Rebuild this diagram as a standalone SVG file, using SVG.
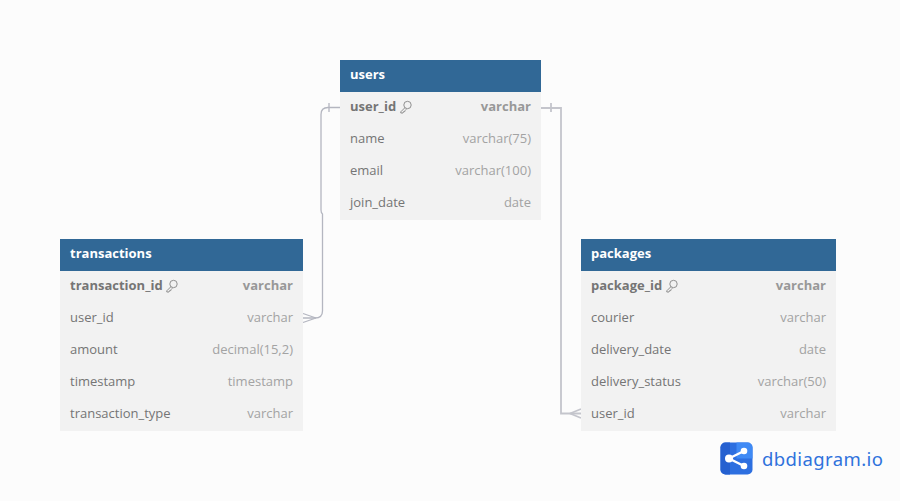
<svg xmlns="http://www.w3.org/2000/svg" width="900" height="501" viewBox="0 0 900 501">
<style>
text{font-family:"Open Sans","Noto Sans",sans-serif;font-size:13px}
.b{fill:#f2f2f2}
.h{fill:#316896}
.t{fill:#fff;font-weight:700}
.n{fill:#757575}
.ty{fill:#a3a3a3;text-anchor:end}
.k{font-weight:700}
.kn{fill:#757575}
.kt{fill:#989898}
.c{fill:none;stroke:#b4b6c0;stroke-width:1.300}
.d{fill:none;stroke:#c4c5cc;stroke-width:1.800}
.ic{fill:none;stroke:#858585;stroke-width:.9}
</style>
<defs>
<g id="key"><circle cx="7.500" cy="4" r="3.700" class="ic"/><path d="M5 6.600 L.8 10.800 V12 H3 L3.600 10.600 H4.800 L5.200 9.400 L6.400 8.200" class="ic"/></g>
</defs>
<rect width="900" height="501" fill="#fcfcfc"/>
<g id="connectors">
<path class="c" d="M340 107.500H328Q321 107.500 321 114.500V210Q321 213 322.500 214V311Q322.500 318 315 318H303"/>
<path class="c" d="M329 103V112M303 313.500L316 318M303 322.500L316 318"/>
<path class="d" d="M541 108H561V413.500H581"/>
<path class="d" d="M551 103V112M581 409L570 413.500M581 418L570 413.500"/>
</g>
<g id="users">
<rect class="b" x="340" y="60" width="201" height="160"/>
<rect class="h" x="340" y="60" width="201" height="32"/>
<text class="t" x="350" y="79">users</text>
<text class="n k kn" x="350" y="111">user_id</text><use href="#key" x="400" y="101"/>
<text class="ty k kt" x="531" y="111">varchar</text>
<text class="n" x="350" y="143">name</text><text class="ty" x="531" y="143">varchar(75)</text>
<text class="n" x="350" y="175">email</text><text class="ty" x="531" y="175">varchar(100)</text>
<text class="n" x="350" y="207">join_date</text><text class="ty" x="531" y="207">date</text>
</g>
<g id="transactions">
<rect class="b" x="60" y="239" width="243" height="192"/>
<rect class="h" x="60" y="239" width="243" height="32"/>
<text class="t" x="70" y="258">transactions</text>
<text class="n k kn" x="70" y="290">transaction_id</text><use href="#key" x="166" y="280"/>
<text class="ty k kt" x="293" y="290">varchar</text>
<text class="n" x="70" y="322">user_id</text><text class="ty" x="293" y="322">varchar</text>
<text class="n" x="70" y="354">amount</text><text class="ty" x="293" y="354">decimal(15,2)</text>
<text class="n" x="70" y="386">timestamp</text><text class="ty" x="293" y="386">timestamp</text>
<text class="n" x="70" y="418">transaction_type</text><text class="ty" x="293" y="418">varchar</text>
</g>
<g id="packages">
<rect class="b" x="581" y="239" width="255" height="192"/>
<rect class="h" x="581" y="239" width="255" height="32"/>
<text class="t" x="591" y="258">packages</text>
<text class="n k kn" x="591" y="290">package_id</text><use href="#key" x="666" y="280"/>
<text class="ty k kt" x="826" y="290">varchar</text>
<text class="n" x="591" y="322">courier</text><text class="ty" x="826" y="322">varchar</text>
<text class="n" x="591" y="354">delivery_date</text><text class="ty" x="826" y="354">date</text>
<text class="n" x="591" y="386">delivery_status</text><text class="ty" x="826" y="386">varchar(50)</text>
<text class="n" x="591" y="418">user_id</text><text class="ty" x="826" y="418">varchar</text>
</g>
<g id="logo">
<rect x="720.500" y="442.500" width="32" height="32" rx="5" fill="#2d6fe0"/>
<path d="M736.500 442.500H747.500A5 5 0 0 1 752.500 447.500V458.500H736.500Z" fill="#3f8af5"/>
<path d="M720.500 447.500A5 5 0 0 1 725.500 442.500H730V474.500H725.500A5 5 0 0 1 720.500 469.500Z" fill="#2560d0"/>
<path d="M744 451L729 458.500L744 466" fill="none" stroke="#fff" stroke-width="2.400"/>
<circle cx="744" cy="451" r="3.300" fill="#fff"/><circle cx="744" cy="466" r="3.300" fill="#fff"/><circle cx="729" cy="458.500" r="4" fill="#fff"/>
<text x="762" y="465.500" style="font-family:'Noto Sans','Open Sans',sans-serif;font-size:18.500px;letter-spacing:.4px" fill="#2f72dc">dbdiagram.io</text>
</g>
</svg>
